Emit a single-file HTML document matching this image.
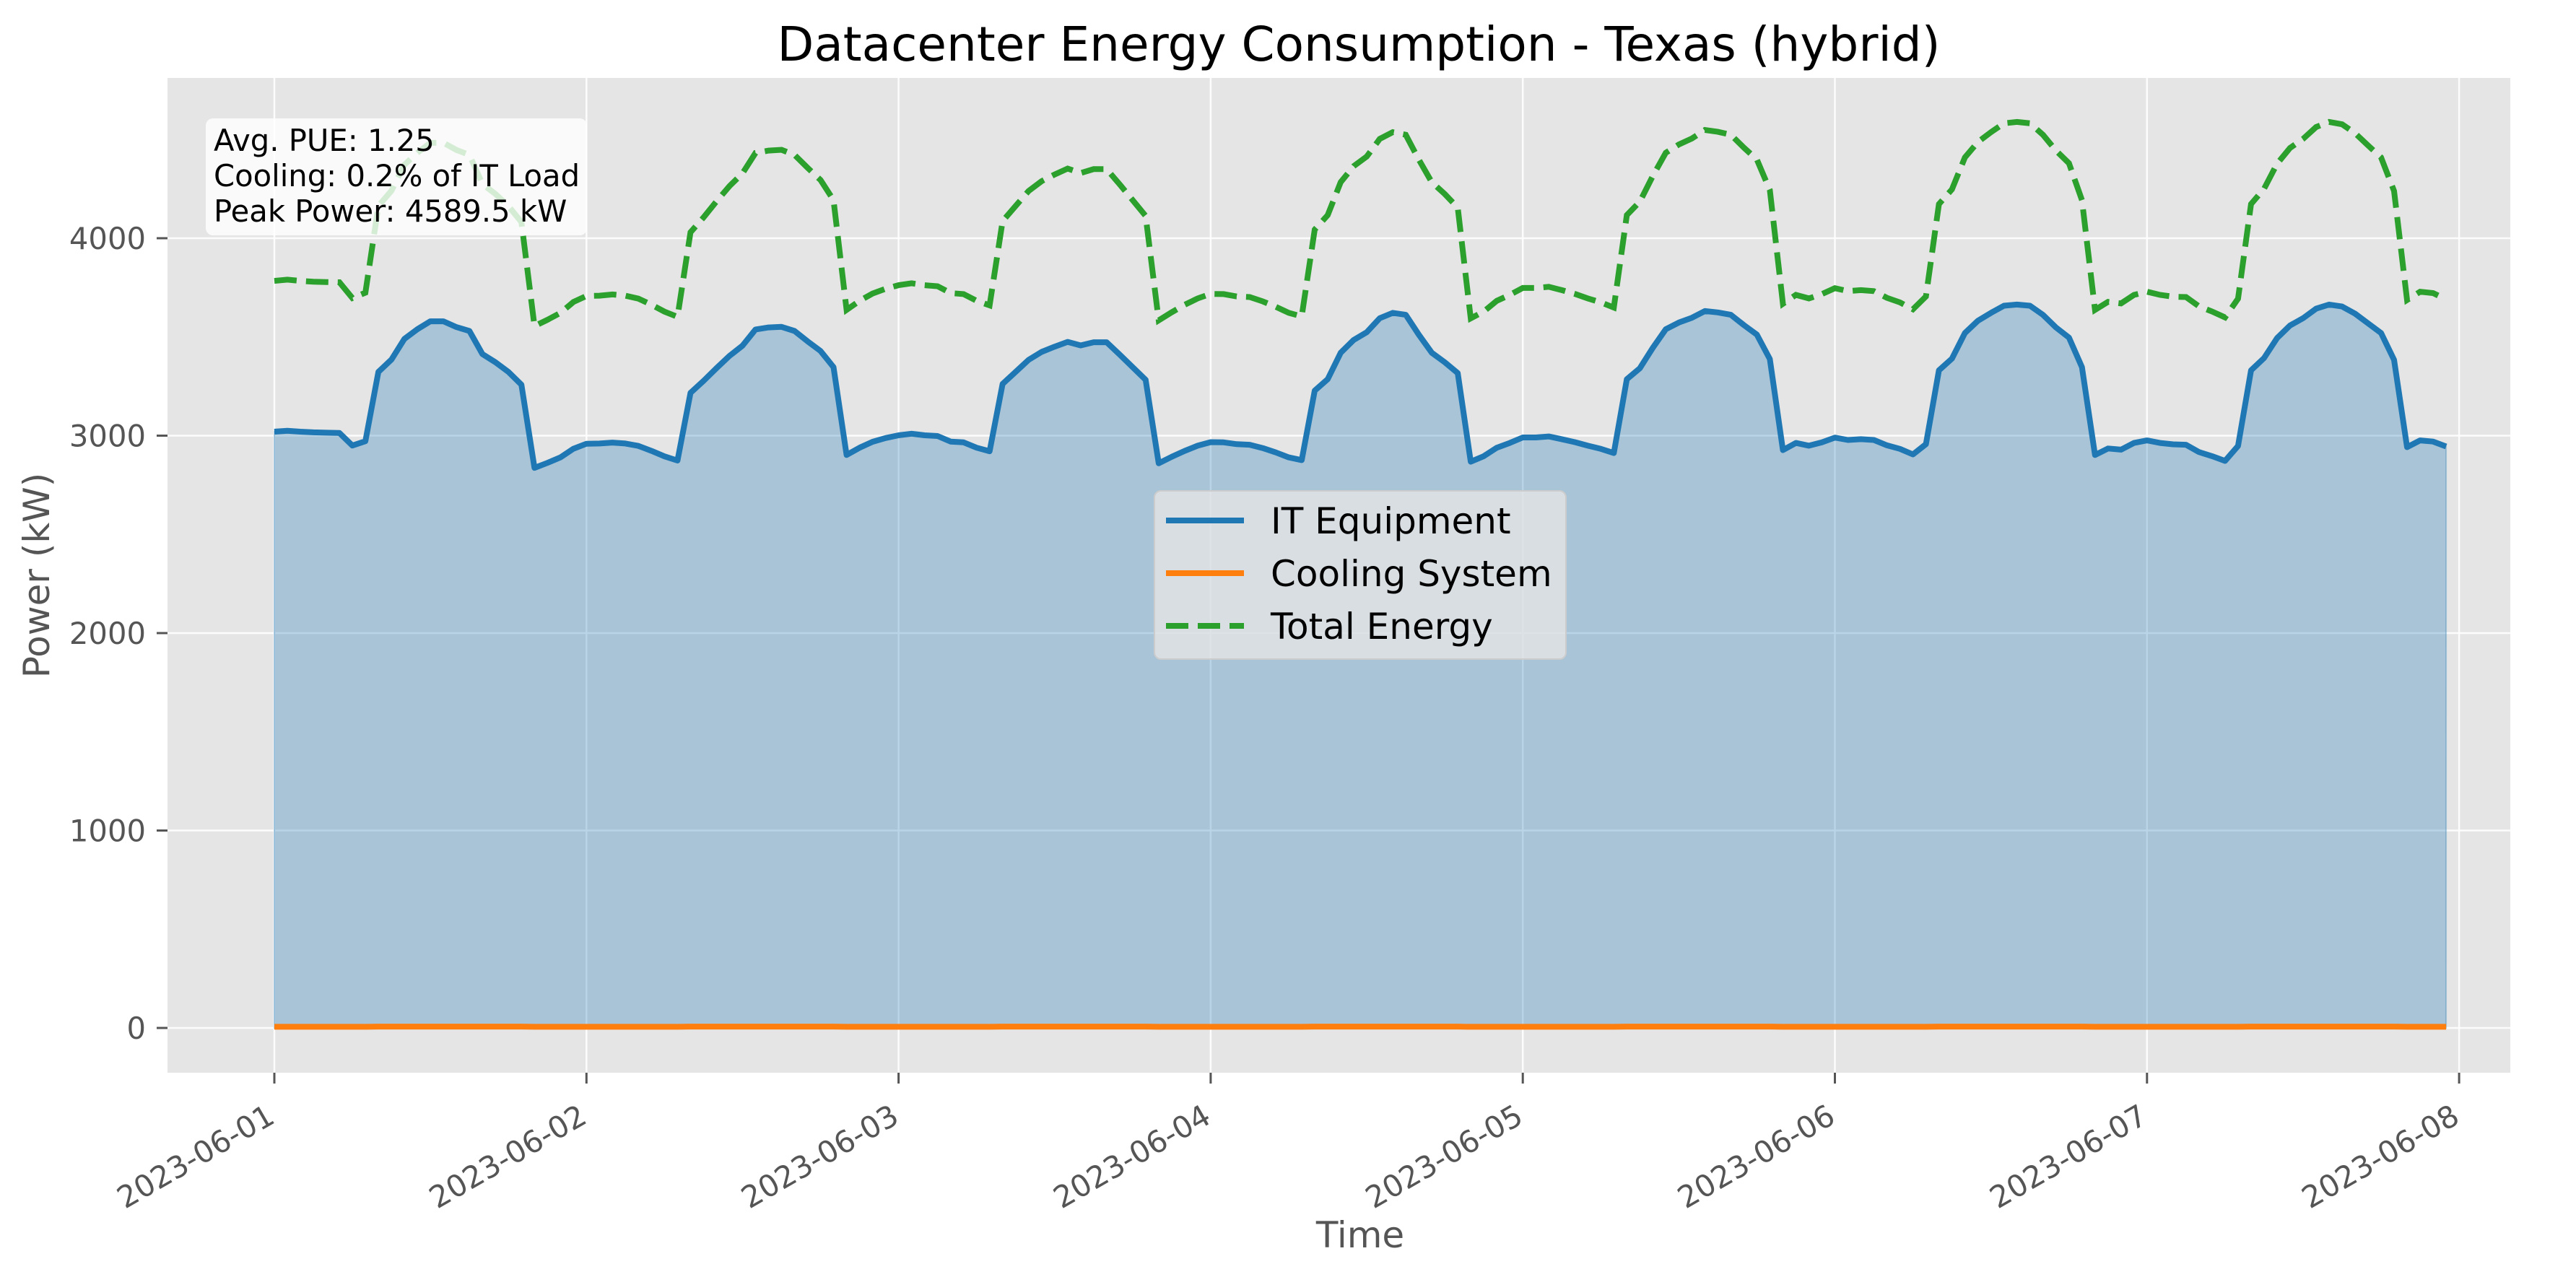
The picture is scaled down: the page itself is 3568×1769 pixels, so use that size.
<!DOCTYPE html>
<html><head><meta charset="utf-8"><title>Datacenter Energy Consumption</title>
<style>html,body{margin:0;padding:0;background:#fff}svg{display:block}text{font-family:"DejaVu Sans","Liberation Sans",sans-serif}</style>
</head><body>
<svg id="chart" xmlns="http://www.w3.org/2000/svg" width="3568" height="1769" viewBox="0 0 3568 1769">
<rect x="0" y="0" width="3568" height="1769" fill="#ffffff"/>
<text x="1882" y="84" font-size="66" text-anchor="middle" fill="#000">Datacenter Energy Consumption - Texas (hybrid)</text>
<g id="plot"></g>
</svg>
<script>
const dayLabels = ["2023-06-01","2023-06-02","2023-06-03","2023-06-04","2023-06-05","2023-06-06","2023-06-07","2023-06-08"];
const yTicks = [0,1000,2000,3000,4000];
const itPower = [3020,3025,3020,3017,3015,3014,2950,2972,3323,3385,3490,3539,3579,3579,3550,3530,3413,3372,3323,3258,2837,2862,2890,2934,
2959,2960,2965,2960,2948,2923,2895,2874,3217,3277,3342,3404,3456,3538,3548,3551,3530,3478,3429,3347,2902,2939,2969,2988,
3002,3010,3002,2998,2970,2966,2939,2921,3262,3323,3384,3424,3451,3475,3457,3473,3473,3411,3347,3283,2860,2893,2923,2949,
2967,2966,2957,2954,2937,2915,2890,2876,3228,3286,3420,3485,3524,3595,3622,3612,3512,3420,3372,3317,2868,2896,2939,2963,
2991,2991,2996,2982,2967,2949,2933,2912,3286,3341,3445,3539,3573,3597,3631,3624,3612,3560,3512,3388,2927,2963,2949,2966,
2990,2978,2982,2978,2951,2933,2905,2957,3331,3390,3520,3582,3622,3658,3664,3658,3612,3548,3497,3347,2902,2935,2929,2963,
2976,2963,2956,2954,2917,2896,2872,2948,3331,3393,3494,3558,3595,3643,3664,3654,3618,3569,3520,3384,2942,2976,2970,2945];
const coolingPower = [6,6,6,6,6,6,6,6,7,7,7,7,7,7,7,7,7,7,7,7,6,6,6,6,
6,6,6,6,6,6,6,6,7,7,7,7,7,7,7,7,7,7,7,7,6,6,6,6,
6,6,6,6,6,6,6,6,7,7,7,7,7,7,7,7,7,7,7,7,6,6,6,6,
6,6,6,6,6,6,6,6,7,7,7,7,7,7,7,7,7,7,7,7,6,6,6,6,
6,6,6,6,6,6,6,6,7,7,7,7,7,7,7,7,7,7,7,7,6,6,6,6,
6,6,6,6,6,6,6,6,7,7,7,7,7,7,7,7,7,7,7,7,6,6,6,6,
6,6,6,6,6,6,6,6,7,7,7,7,7,7,7,7,7,7,7,7,6,6,6,6];
const totalPower = [3784,3790,3784,3780,3778,3777,3697,3724,4163,4240,4372,4433,4483,4483,4447,4422,4275,4224,4163,4082,3555,3587,3622,3677,
3708,3709,3715,3709,3694,3663,3628,3602,4030,4105,4187,4264,4329,4432,4444,4448,4422,4357,4295,4193,3637,3683,3720,3744,
3762,3772,3762,3757,3722,3717,3683,3660,4087,4163,4239,4289,4323,4353,4330,4350,4350,4273,4193,4113,3584,3625,3663,3695,
3718,3717,3705,3702,3680,3653,3622,3604,4044,4117,4284,4365,4414,4503,4537,4524,4399,4284,4224,4155,3594,3629,3683,3713,
3748,3748,3754,3737,3718,3695,3675,3649,4117,4185,4315,4433,4475,4505,4548,4539,4524,4459,4399,4244,3668,3713,3695,3717,
3747,3732,3737,3732,3698,3675,3640,3705,4173,4247,4409,4487,4537,4582,4589,4582,4524,4444,4380,4193,3637,3678,3670,3713,
3729,3713,3704,3702,3655,3629,3599,3694,4173,4250,4377,4457,4503,4563,4589,4577,4532,4470,4409,4239,3687,3729,3722,3690];
const annotationLines = ["Avg. PUE: 1.25","Cooling: 0.2% of IT Load","Peak Power: 4589.5 kW"];

const NS = "http://www.w3.org/2000/svg";
const PL = 232, PR = 3477, PT = 108, PB = 1486;
const X0 = 380, DAYPX = 432.3;
const Y0 = 1424, KWPX = 0.2735;
function xHour(h){ return X0 + h * DAYPX / 24; }
function xDay(d){ return X0 + d * DAYPX; }
function yVal(v){ return Y0 - v * KWPX; }
const g = document.getElementById("plot");
function mk(tag, attrs, parent){
  const e = document.createElementNS(NS, tag);
  for (const k in attrs) e.setAttribute(k, attrs[k]);
  (parent || g).appendChild(e);
  return e;
}
const bg = mk("rect",{x:PL,y:PT,width:PR-PL,height:PB-PT,fill:"#e5e5e5"});


yTicks.forEach(v=>{
  const y = yVal(v);
  const gl = mk("line",{x1:PL,x2:PR,y1:y,y2:y,stroke:"#ffffff","stroke-width":2.5,opacity:0.9});
  
  
  const tk = mk("line",{x1:PL-15,x2:PL,y1:y,y2:y,stroke:"#555","stroke-width":3});
  
  
  const t = mk("text",{x:PL-30,y:y+15,"font-size":41.7,"text-anchor":"end",fill:"#555"});
  t.textContent = String(v);
  
  
});
dayLabels.forEach((lab,i)=>{
  const x = xDay(i);
  const gl = mk("line",{x1:x,x2:x,y1:PT,y2:PB,stroke:"#ffffff","stroke-width":2.5,opacity:0.9});
  
  
  const tk = mk("line",{x1:x,x2:x,y1:PB,y2:PB+15,stroke:"#555","stroke-width":3});
  
  
  const t = mk("text",{x:0,y:0,"font-size":41.7,"text-anchor":"end",fill:"#555",transform:`translate(${x+3},${PB+68}) rotate(-30)`});
  t.textContent = lab;
  
  
});
let fp = `M${xHour(0)},${yVal(0)} `;
itPower.forEach((v,i)=>{ fp += `L${xHour(i).toFixed(1)},${yVal(v).toFixed(1)} `; });
fp += `L${xHour(itPower.length-1)},${yVal(0)} Z`;
const fill = mk("path",{d:fp,fill:"#1f77b4","fill-opacity":0.3,stroke:"#1f77b4","stroke-opacity":0.3,"stroke-width":2});


function linePath(arr){ return arr.map((v,i)=>(i?"L":"M")+xHour(i).toFixed(1)+","+yVal(v).toFixed(1)).join(" "); }
const itLine = mk("path",{d:linePath(itPower),fill:"none",stroke:"#1f77b4","stroke-width":8,"stroke-linejoin":"round"});


const coolLine = mk("path",{d:linePath(coolingPower),fill:"none",stroke:"#ff7f0e","stroke-width":8,"stroke-linejoin":"round"});


const totLine = mk("path",{d:linePath(totalPower),fill:"none",stroke:"#2ca02c","stroke-width":8,"stroke-dasharray":"31 13"});


const ann = mk("g",{});


mk("rect",{x:285,y:164,width:528,height:162,rx:10,fill:"#ffffff","fill-opacity":0.8},ann);
annotationLines.forEach((s,i)=>{
  const t = mk("text",{x:296,y:209+i*49,"font-size":41.7,fill:"#000"},ann);
  t.textContent = s;
  
  
});
const leg = mk("g",{});


mk("rect",{x:1599,y:680,width:570,height:233,rx:9,fill:"#e5e5e5","fill-opacity":0.8,stroke:"#cccccc","stroke-width":2},leg);
const legNames = ["IT Equipment","Cooling System","Total Energy"];
const legColors = ["#1f77b4","#ff7f0e","#2ca02c"];
legNames.forEach((n,i)=>{
  const y = 721 + i*73;
  const e = mk("g",{},leg);
  
  
  const ln = mk("line",{x1:1615,x2:1723,y1:y,y2:y,stroke:legColors[i],"stroke-width":8},e);
  if (i===2) ln.setAttribute("stroke-dasharray","31 13");
  const t = mk("text",{x:1760,y:y+18,"font-size":50,fill:"#000"},e);
  t.textContent = n;
});
const xl = mk("text",{x:1884,y:1728,"font-size":50,"text-anchor":"middle",fill:"#555"});
xl.textContent = "Time";


const yl = mk("text",{x:0,y:0,"font-size":50,"text-anchor":"middle",fill:"#555",transform:"translate(68,797) rotate(-90)"});
yl.textContent = "Power (kW)";


</script>
</body></html>
